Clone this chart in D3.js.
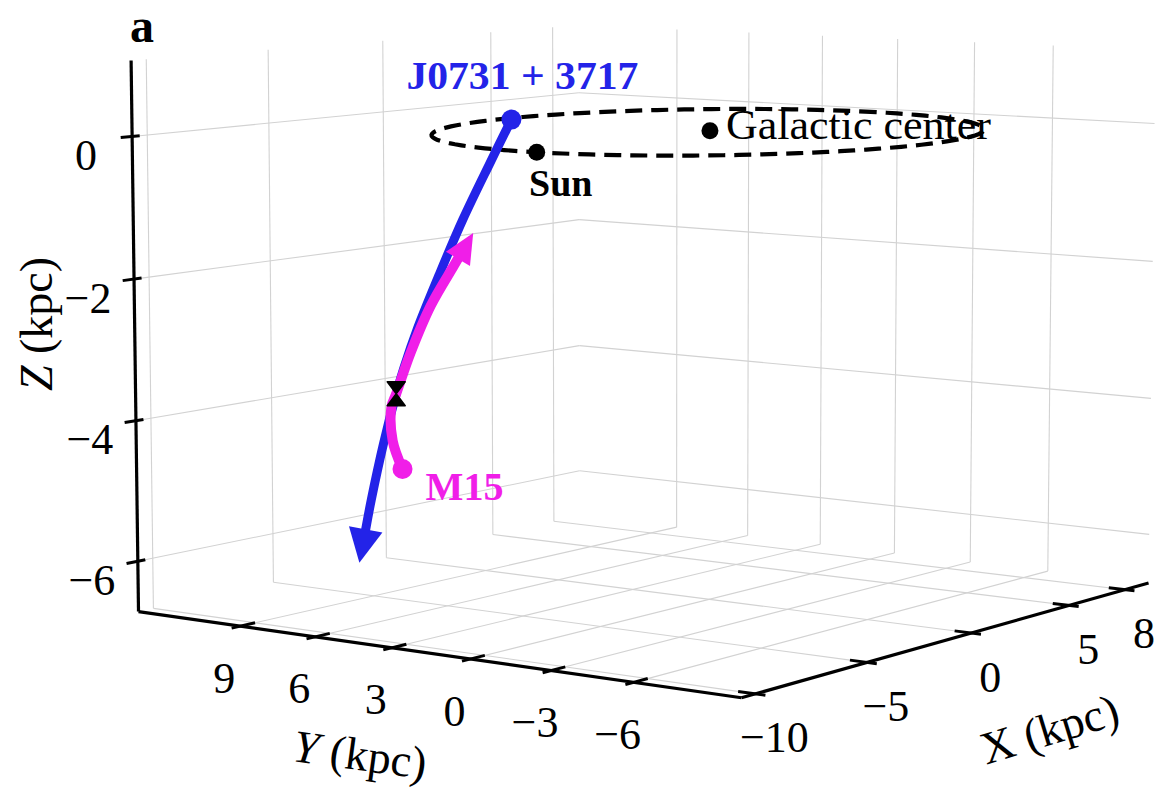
<!DOCTYPE html>
<html>
<head>
<meta charset="utf-8">
<script src="https://cdn.jsdelivr.net/npm/d3@7"></script>
<style>
  body { margin: 0; background: #fff; }
  svg { display: block; }
  text { font-family: "Liberation Serif", "DejaVu Serif", serif; }
</style>
</head>
<body>
<svg id="chart" width="1158" height="790"></svg>
<script>
// axis limits (kpc)
const xDomain = [-10.6, 9.3];
const yDomain = [-9.8, 13.2];
const zDomain = [-6.72, 1.06];

const xTicks = [-10, -5, 0, 5, 8];
const yTicks = [9, 6, 3, 0, -3, -6];
const zTicks = [0, -2, -4, -6];

// J0731+3717 orbit, present position first (kpc)
const psrX = [-8.8, -8.15, -7.3, -6.43, -5.57, -4.93, -4.5, -3.9, -3.4, -3.0];
const psrY = [0.0, 1.4, 3.22, 4.95, 6.62, 7.78, 8.5, 9.6, 10.6, 11.5];
const psrZ = [0.45, -0.19, -1.04, -1.89, -2.74, -3.38, -3.8, -4.6, -5.5, -6.5];

// M15 orbit, present position first (kpc)
const m15X = [-4.3, -4.4, -4.5, -4.5, -4.4, -4.25, -4.05, -3.8];
const m15Y = [8.45, 8.75, 8.7, 8.5, 8.0, 7.3, 6.6, 6.0];
const m15Z = [-4.9, -4.5, -4.0, -3.8, -3.2, -2.5, -1.95, -1.45];

const crossing = [-4.5, 8.5, -3.8];
const sunPos = [-8.19, -0.4, 0];
const gcPos = [0, 0, 0];
const solarRadius = 8.2;

const svg = d3.select("#chart");

// data -> box (4 : 4 : 3)
const bx = d3.scaleLinear().domain(xDomain).range([-2, 2]);
const by = d3.scaleLinear().domain(yDomain).range([-2, 2]);
const bz = d3.scaleLinear().domain(zDomain).range([-1.5, 1.5]);

// camera
const azim = -144 * Math.PI / 180;
const elev = 7 * Math.PI / 180;
const dist = 26;
const zoom = 182;
const cx = 652, cy = 328;

const ca = Math.cos(azim), sa = Math.sin(azim);
const ce = Math.cos(elev), se = Math.sin(elev);
const w = [ce * ca, ce * sa, se];
const r = [-sa, ca, 0];
const u = [-se * ca, -se * sa, ce];

function project(x, y, z) {
  const q = [bx(x), by(y), bz(z)];
  const dot = v => q[0] * v[0] + q[1] * v[1] + q[2] * v[2];
  const f = dist / (dist - dot(w));
  return [cx + zoom * f * dot(r), cy - zoom * f * dot(u)];
}

const [x0, x1] = xDomain, [y0, y1] = yDomain, [z0, z1] = zDomain;

// grid on back panes and floor
const grid = [];
xTicks.forEach(t => {
  grid.push([[t, y1, z0], [t, y1, z1]]);
  grid.push([[t, y0, z0], [t, y1, z0]]);
});
yTicks.forEach(t => {
  grid.push([[x1, t, z0], [x1, t, z1]]);
  grid.push([[x0, t, z0], [x1, t, z0]]);
});
zTicks.forEach(t => {
  grid.push([[x0, y1, t], [x1, y1, t]]);
  grid.push([[x1, y1, t], [x1, y0, t]]);
});

svg.append("g")
  .selectAll("line")
  .data(grid)
  .enter()
  .append("line")
  .each(function(d) {
    const a = project(...d[0]), b = project(...d[1]);
    d3.select(this)
      .attr("x1", a[0]).attr("y1", a[1])
      .attr("x2", b[0]).attr("y2", b[1]);
  })
  .attr("stroke", "#d2d2d2")
  .attr("stroke-width", 1.1);

// axis lines
const axes = [
  [[x0, y1, z0], [x0, y1, z1]],
  [[x0, y1, z0], [x0, y0, z0]],
  [[x0, y0, z0], [x1, y0, z0]]
];
const lineGen = d3.line();
svg.append("g")
  .selectAll("path")
  .data(axes)
  .enter()
  .append("path")
  .attr("d", d => lineGen(d.map(p => project(...p))))
  .attr("fill", "none")
  .attr("stroke", "#000")
  .attr("stroke-width", 3.2);

// tick marks
const tickSegs = [];
xTicks.forEach(t => tickSegs.push([[t, y0 + 0.6, z0], [t, y0 - 0.35, z0]]));
yTicks.forEach(t => tickSegs.push([[x0 + 0.6, t, z0], [x0 - 0.35, t, z0]]));
zTicks.forEach(t => tickSegs.push([[x0 + 0.3, y1, t], [x0 - 0.45, y1, t]]));
svg.append("g")
  .selectAll("path")
  .data(tickSegs)
  .enter()
  .append("path")
  .attr("d", d => lineGen(d.map(p => project(...p))))
  .attr("stroke", "#000")
  .attr("stroke-width", 3);

const fmt = v => (v < 0 ? "\u2212" + Math.abs(v) : String(v));

// tick labels
const tickFont = 44;
svg.append("g")
  .selectAll("text")
  .data(xTicks)
  .enter()
  .append("text")
  .attr("x", d => project(d, y0, z0)[0] + 19)
  .attr("y", d => project(d, y0, z0)[1] + 44 + tickFont * 0.33)
  .attr("text-anchor", "middle")
  .attr("font-size", tickFont)
  .text(fmt);

svg.append("g")
  .selectAll("text")
  .data(yTicks)
  .enter()
  .append("text")
  .attr("x", d => project(x0, d, z0)[0] - 16)
  .attr("y", d => project(x0, d, z0)[1] + 52 + tickFont * 0.33)
  .attr("text-anchor", "middle")
  .attr("font-size", tickFont)
  .text(fmt);

svg.append("g")
  .selectAll("text")
  .data(zTicks)
  .enter()
  .append("text")
  .attr("x", d => project(x0, y1, d)[0] - 46)
  .attr("y", d => project(x0, y1, d)[1] + 19 + tickFont * 0.33)
  .attr("text-anchor", "middle")
  .attr("font-size", tickFont)
  .text(fmt);

// axis labels
const labFont = 46;
const zLab = svg.append("text")
  .attr("transform", "translate(52,324) rotate(-90)")
  .attr("text-anchor", "middle")
  .attr("font-size", labFont);
zLab.append("tspan").attr("font-style", "italic").text("Z");
zLab.append("tspan").text(" (kpc)");

const yLab = svg.append("text")
  .attr("transform", "translate(358,770) rotate(7.8)")
  .attr("text-anchor", "middle")
  .attr("font-size", labFont);
yLab.append("tspan").attr("font-style", "italic").text("Y");
yLab.append("tspan").text(" (kpc)");

svg.append("text")
  .attr("transform", "translate(1054,744) rotate(-17)")
  .attr("text-anchor", "middle")
  .attr("font-size", labFont)
  .text("X (kpc)");

// panel letter
svg.append("text")
  .attr("x", 130)
  .attr("y", 42)
  .attr("font-size", 48)
  .attr("font-weight", "bold")
  .text("a");

// solar circle
const angles = d3.range(0, 361, 3).map(a => a * Math.PI / 180);
svg.append("path")
  .attr("d", lineGen(angles.map(a =>
    project(gcPos[0] + solarRadius * Math.cos(a), gcPos[1] + solarRadius * Math.sin(a), gcPos[2]))))
  .attr("fill", "none")
  .attr("stroke", "#000")
  .attr("stroke-width", 4.2)
  .attr("stroke-dasharray", "17,9");

// trajectories with arrow heads
const curve = d3.line().curve(d3.curveCatmullRom.alpha(0.5));

function drawOrbit(xs, ys, zs, color, width, headLen, headHalf) {
  const pts = xs.map((x, i) => project(x, ys[i], zs[i]));
  const n = pts.length;
  const tip = pts[n - 1], prev = pts[n - 2];
  const len = Math.hypot(tip[0] - prev[0], tip[1] - prev[1]);
  const ux = (tip[0] - prev[0]) / len, uy = (tip[1] - prev[1]) / len;
  const base = [tip[0] - ux * headLen, tip[1] - uy * headLen];
  svg.append("path")
    .attr("d", curve(pts.slice(0, n - 1).concat([base])))
    .attr("fill", "none")
    .attr("stroke", color)
    .attr("stroke-width", width)
    .attr("stroke-linecap", "round");
  svg.append("path")
    .attr("d", lineGen([
      tip,
      [base[0] - uy * headHalf, base[1] + ux * headHalf],
      [base[0] + uy * headHalf, base[1] - ux * headHalf]
    ]) + "Z")
    .attr("fill", color);
  svg.append("circle")
    .attr("cx", pts[0][0])
    .attr("cy", pts[0][1])
    .attr("r", 10)
    .attr("fill", color);
}

drawOrbit(psrX, psrY, psrZ, "#2323e8", 9, 34, 17);
drawOrbit(m15X, m15Y, m15Z, "#f01ee8", 10, 30, 14);

// crossing marker (hourglass)
const cp = project(...crossing);
svg.append("path")
  .attr("transform", `translate(${cp[0]},${cp[1]})`)
  .attr("d", "M-9,-12L9,-12L-9,12L9,12Z")
  .attr("fill", "#000")
  .attr("stroke", "#000")
  .attr("stroke-width", 1.5)
  .attr("stroke-linejoin", "round");

// Sun and Galactic center
const sp = project(...sunPos), gp = project(...gcPos);
svg.append("circle").attr("cx", sp[0]).attr("cy", sp[1]).attr("r", 8.5).attr("fill", "#000");
svg.append("circle").attr("cx", gp[0]).attr("cy", gp[1]).attr("r", 8.5).attr("fill", "#000");

// annotations
const pp = project(psrX[0], psrY[0], psrZ[0]);
const mp = project(m15X[0], m15Y[0], m15Z[0]);

svg.append("text")
  .attr("x", pp[0] + 11)
  .attr("y", pp[1] - 31)
  .attr("text-anchor", "middle")
  .attr("font-size", 40)
  .attr("font-weight", "bold")
  .attr("fill", "#2323e8")
  .attr("textLength", 232)
  .attr("lengthAdjust", "spacingAndGlyphs")
  .text("J0731 + 3717");

svg.append("text")
  .attr("x", gp[0] + 16)
  .attr("y", gp[1] + 8)
  .attr("font-size", 42)
  .attr("textLength", 265)
  .attr("lengthAdjust", "spacingAndGlyphs")
  .text("Galactic center");

svg.append("text")
  .attr("x", sp[0] + 24)
  .attr("y", sp[1] + 44)
  .attr("text-anchor", "middle")
  .attr("font-size", 38)
  .attr("font-weight", "bold")
  .text("Sun");

svg.append("text")
  .attr("x", mp[0] + 23)
  .attr("y", mp[1] + 31)
  .attr("font-size", 40)
  .attr("font-weight", "bold")
  .attr("fill", "#f01ee8")
  .attr("textLength", 78)
  .attr("lengthAdjust", "spacingAndGlyphs")
  .text("M15");
</script>
</body>
</html>
